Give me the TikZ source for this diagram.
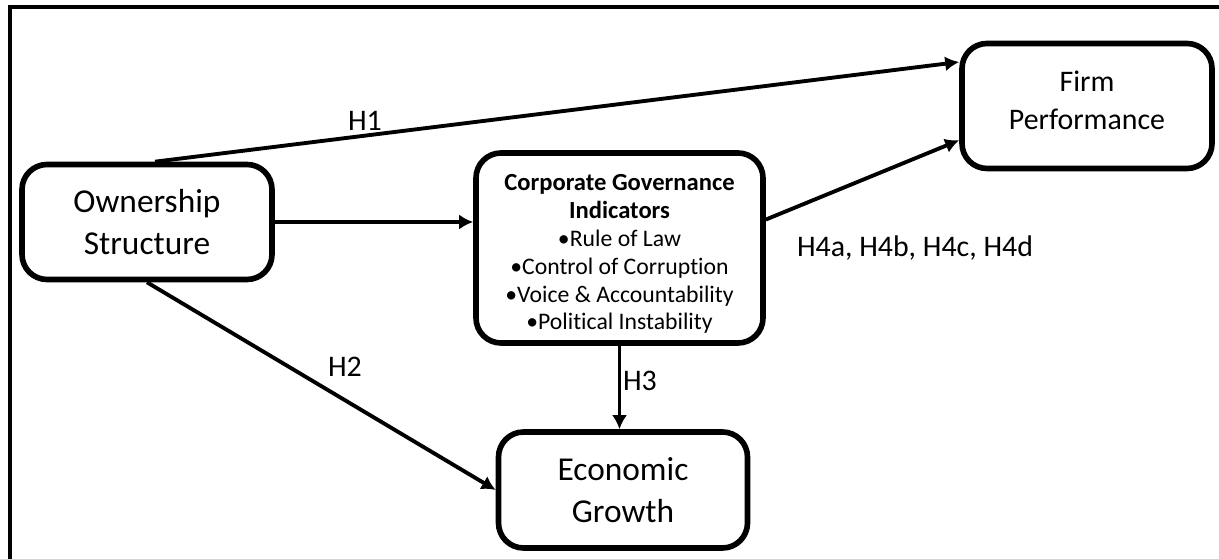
\documentclass[tikz,border=0pt]{standalone}
\usepackage{fontspec}
\setmainfont{Carlito}[Ligatures=NoCommon]
\usetikzlibrary{arrows.meta}

\tikzset{
  block/.style={draw, line width=3.2pt, rounded corners=0.5cm, fill=white,
    align=center, inner sep=2pt,
    font=\fontsize{19}{23.8}\selectfont},
  link/.style={line width=2.2pt, -{Latex[length=0.28cm,width=0.3cm]}},
  hyp/.style={font=\fontsize{17}{20}\selectfont}
}

\begin{document}
\begin{tikzpicture}
  \useasboundingbox (0cm,0cm) rectangle (24.38cm,-11.18cm);
  % frame (only the top and left edges show)
  \draw[line width=1.9pt] (0.2cm,-11.18cm) -- (0.2cm,-0.14cm) -- (24.38cm,-0.14cm);

  % blocks
  \node[block, minimum width=5cm, minimum height=2.3cm] (own) at (2.94cm,-4.44cm)
    {Ownership\\Structure};
  \node[block, minimum width=5.74cm, minimum height=3.8cm,
    font=\fontsize{13.5}{15.9}\selectfont] (cgi) at (12.39cm,-4.96cm)
    {\rule{0pt}{16pt}\textbf{\fontsize{14}{15.9}\selectfont Corporate Governance}\\
     \textbf{\fontsize{14}{15.9}\selectfont Indicators}\\•Rule of Law\\
     •Control of Corruption\\•Voice \& Accountability\\•Political Instability};
  \node[block, minimum width=5cm, minimum height=2.5cm,
    font=\fontsize{17}{21.5}\selectfont] (firm) at (21.74cm,-2.12cm)
    {Firm\\Performance\rule[-6.8pt]{0pt}{0pt}};
  \node[block, minimum width=4.98cm, minimum height=2.32cm] (econ) at (12.46cm,-9.8cm)
    {Economic\\Growth};

  % hypotheses
  \draw[link] ([xshift=0.16cm]own.north) -- (firm.161);
  \draw[link] (own.east) -- (own.east -| cgi.west);
  \draw[link] (cgi.11) -- (firm.195);
  \draw[link] (own.south) -- (econ.west);
  \draw[link] (cgi.south) -- (cgi.south |- econ.north);

  \node[hyp] (h1) at (7.3cm,-2.42cm) {H1};
  \node[hyp] (h2) at (6.9cm,-7.34cm) {H2};
  \node[hyp] (h3) at (12.8cm,-7.62cm) {H3};
  \node[hyp] (h4) at (18.3cm,-4.96cm) {H4a, H4b, H4c, H4d};
\end{tikzpicture}
\end{document}
